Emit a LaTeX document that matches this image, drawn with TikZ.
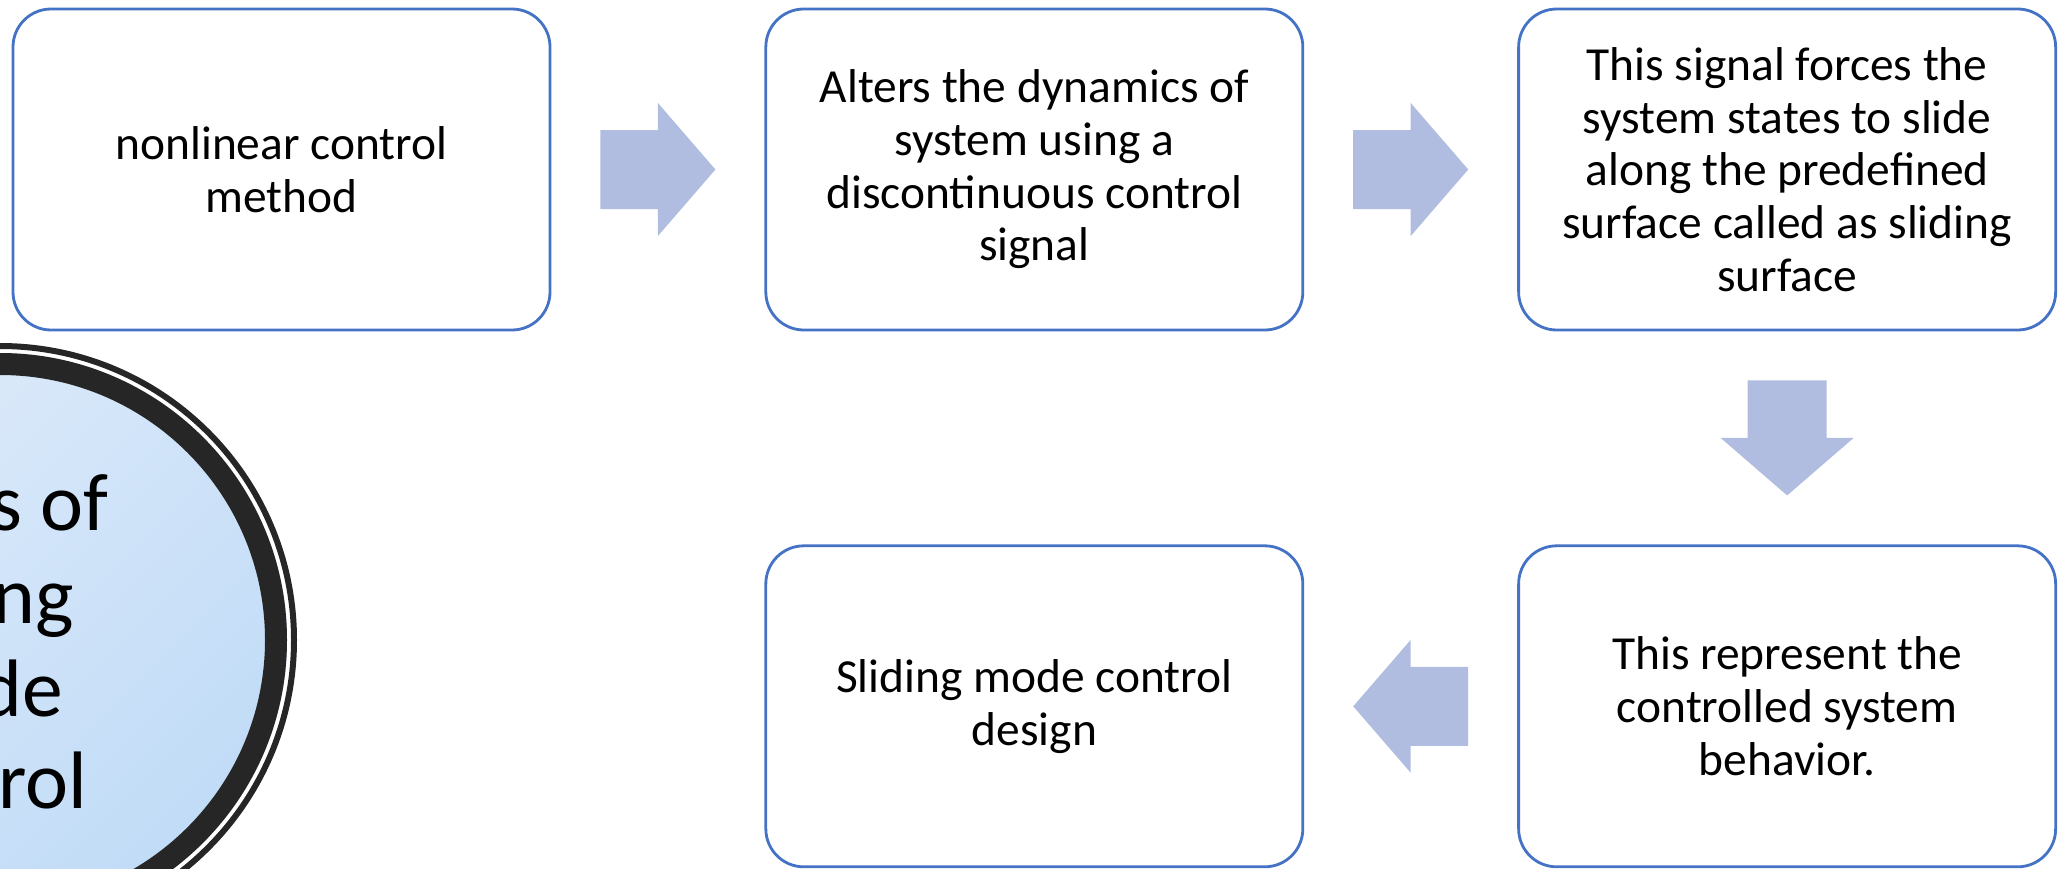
\documentclass[tikz,border=0pt]{standalone}
\usepackage{fontspec}
\setmainfont{Carlito}
\usetikzlibrary{calc}
\usetikzlibrary{positioning}
\definecolor{officeblue}{RGB}{68, 114, 196}
\definecolor{periwinkle}{RGB}{176, 189, 224}
\definecolor{charcoal}{RGB}{38, 38, 38}
\definecolor{skylight}{RGB}{222, 235, 250}
\definecolor{skydeep}{RGB}{192, 219, 247}

\tikzset{
  stepbox/.style={draw=officeblue, line width=0.8pt, rounded corners=0.38cm,
    minimum width=5.37cm, minimum height=3.21cm, inner sep=0pt, align=center,
    font=\fontsize{13.5}{15}\selectfont},
  pics/flowarrow/.style={code={
    \fill[periwinkle] (-0.575,-0.395) -- (0,-0.395) -- (0,-0.665) -- (0.575,0)
      -- (0,0.665) -- (0,0.395) -- (-0.575,0.395) -- cycle;}}
}

\begin{document}
\begin{tikzpicture}
    \clip (0,0) rectangle (20.59,8.68);
    % title disc, cut by the left edge
    \shade[top color=skylight, bottom color=skydeep, shading angle=45] (0,2.28) circle (2.87);
    \draw[charcoal, line width=0.22cm] (0,2.28) circle (2.76);
    \draw[charcoal, line width=0.06cm] (0,2.28) circle (2.94);
    \node[align=center, font=\fontsize{23.2}{26.4}\selectfont] (title) at (-0.35,2.26)
        {Basics of\\Sliding\\Mode\\Control};

    \node[stepbox] (method) at (2.815,6.985) {nonlinear control\\method};
    \node[stepbox, right=2.13cm of method] (alters)
        {Alters the dynamics of\\system using a\\discontinuous control\\signal};
    \node[stepbox, right=2.13cm of alters] (forces)
        {This signal forces the\\system states to slide\\along the predefined\\surface called as sliding\\surface};
    \node[stepbox, below=2.13cm of forces] (behavior)
        {This represent the\\controlled system\\behavior.};
    \node[stepbox, left=2.13cm of behavior] (design) {Sliding mode control\\design};

    \path ($(method.east)!0.5!(alters.west)$) pic {flowarrow};
    \path ($(alters.east)!0.5!(forces.west)$) pic {flowarrow};
    \path ($(forces.south)!0.5!(behavior.north)$) pic[rotate=-90] {flowarrow};
    \path ($(behavior.west)!0.5!(design.east)$) pic[rotate=180] {flowarrow};
\end{tikzpicture}
\end{document}
